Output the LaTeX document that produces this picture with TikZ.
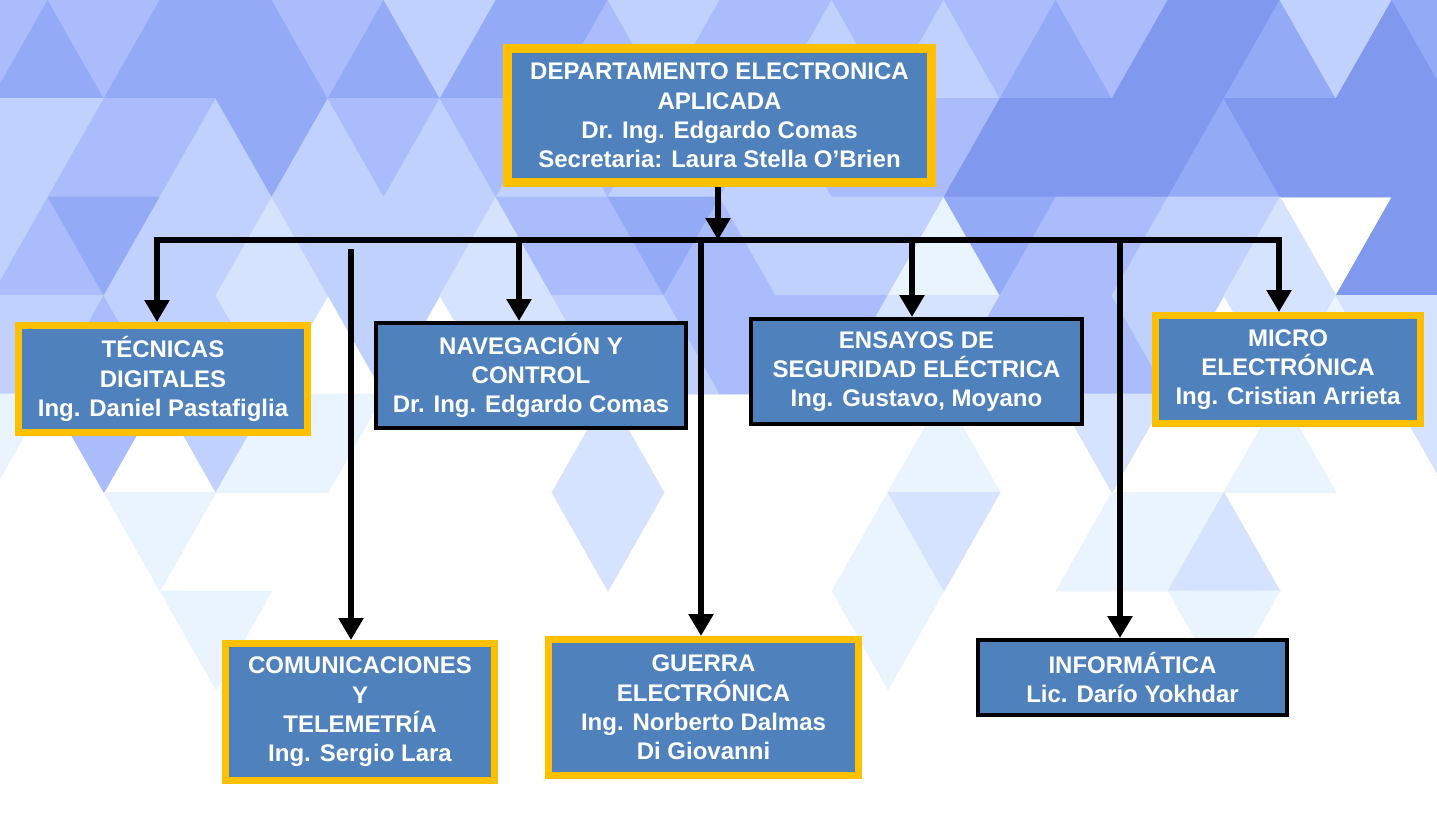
\documentclass[tikz,border=0pt]{standalone}
\usepackage{fontspec}
\setmainfont{Liberation Sans}
\usetikzlibrary{arrows.meta}
\definecolor{tA}{HTML}{8098EE}
\definecolor{tB}{HTML}{93ABF7}
\definecolor{tC}{HTML}{AABCFB}
\definecolor{tD}{HTML}{C1D1FD}
\definecolor{tE}{HTML}{D6E3FE}
\definecolor{tF}{HTML}{E9F4FE}
\definecolor{boxblue}{HTML}{4F81BD}
\definecolor{boxyellow}{HTML}{FFC000}
\newcommand\boxfont{\fontsize{24}{29.3}\selectfont\bfseries}
\newcommand\trirow[2]{%
  \foreach \tc [count=\ti from -1] in {#2}{%
    \if\tc W\else
      \pgfmathsetmacro\xc{48+56*\ti}%
      \pgfmathsetmacro\ya{98.5*#1}%
      \pgfmathsetmacro\yb{98.5*(#1+1)}%
      \pgfmathtruncatemacro\tpar{mod(\ti+#1+2,2)}%
      \ifnum\tpar=0
        \filldraw[fill=t\tc,draw=t\tc,line width=0.6pt] (\xc,\ya) -- (\xc-56,\yb) -- (\xc+56,\yb) -- cycle;
      \else
        \filldraw[fill=t\tc,draw=t\tc,line width=0.6pt] (\xc-56,\ya) -- (\xc+56,\ya) -- (\xc,\yb) -- cycle;
      \fi
    \fi}}
\tikzset{
  box/.style={fill=boxblue, text=white, font=\boxfont, align=center, inner sep=0pt},
  ybox/.style={box, draw=boxyellow, line width=7pt},
  kbox/.style={box, draw=black, line width=4pt},
  conn/.style={line width=6pt, -{Triangle[width=24pt,length=22pt]}}
}
\begin{document}
\begin{tikzpicture}[x=1pt,y=-1pt]
\useasboundingbox (0,0) rectangle (1437,839);
\fill[white] (0,0) rectangle (1437,839);
\begin{scope}
\clip (0,0) rectangle (1437,839);
\trirow{0}{C,B,C,B,B,B,C,B,D,B,B,C,D,C,C,D,C,D,C,B,C,A,A,B,D,A,B}
\trirow{1}{D,D,C,C,D,B,D,C,D,C,D,C,D,C,D,C,C,C,A,A,A,A,B,A,A,A,A}
\trirow{2}{D,C,B,D,D,E,D,D,D,E,C,C,B,C,D,D,D,F,B,C,C,D,D,E,W,A,A}
\trirow{3}{D,D,C,D,D,E,W,D,W,E,E,D,D,C,C,C,E,E,C,C,C,D,W,E,F,E,E}
\trirow{4}{F,W,C,W,D,F,F,W,W,W,W,E,W,W,W,W,W,F,W,W,E,W,W,F,W,W,E}
\trirow{5}{W,W,W,F,W,W,W,W,W,W,W,E,W,W,W,W,F,E,W,W,F,F,E,W,W,W,W}
\trirow{6}{W,W,W,W,F,W,W,W,W,W,W,W,W,W,W,W,F,W,W,W,W,W,F,W,W,W,W}
\end{scope}

% boxes
\node[ybox, line width=9pt, minimum width=424pt, minimum height=134pt] (dep) at (719.5,115.5)
  {DEPARTAMENTO ELECTRONICA\\APLICADA\\Dr. Ing. Edgardo Comas\\Secretaria: Laura Stella O’Brien};
\node[ybox, minimum width=289pt, minimum height=107pt] (tec) at (163,379)
  {TÉCNICAS\\DIGITALES\\Ing. Daniel Pastafiglia};
\node[kbox, minimum width=310pt, minimum height=105pt] (nav) at (531,375.5)
  {NAVEGACIÓN Y\\CONTROL\\Dr. Ing. Edgardo Comas};
\node[kbox, minimum width=331pt, minimum height=105pt] (ens) at (916.5,371.5)
  {ENSAYOS DE\\SEGURIDAD ELÉCTRICA\\Ing. Gustavo, Moyano};
\node[ybox, minimum width=265pt, minimum height=108pt] (mic) at (1288,369.5)
  {MICRO\\ELECTRÓNICA\\Ing. Cristian Arrieta};
\node[ybox, minimum width=269pt, minimum height=137pt] (com) at (360,712)
  {COMUNICACIONES\\Y\\TELEMETRÍA\\Ing. Sergio Lara};
\node[ybox, minimum width=310pt, minimum height=136pt] (gue) at (703.5,707.5)
  {GUERRA\\ELECTRÓNICA\\Ing. Norberto Dalmas\\Di Giovanni};
\node[kbox, minimum width=309pt, minimum height=75pt] (inf) at (1132.5,677.5)
  {INFORMÁTICA\\Lic. Darío Yokhdar};

% connectors
\coordinate (busL) at (157,240);
\coordinate (busR) at (1279,240);
\coordinate (jDep) at (718,240);
\coordinate (jNav) at (519,240);
\coordinate (sCom) at (351,249);
\coordinate (jGue) at (701,242);
\coordinate (jEns) at (912,240);
\coordinate (jInf) at (1120,240);

\draw[conn] (jDep |- dep.south) -- (jDep);
\draw[conn] (busR) -- (busL) -- (busL |- tec.north);
\draw[conn] (busL) -- (busR) -- (busR |- mic.north);
\draw[conn] (jNav) -- (jNav |- nav.north);
\draw[conn] (sCom) -- (sCom |- com.north);
\draw[conn] (jGue) -- (jGue |- gue.north);
\draw[conn] (jEns) -- (jEns |- ens.north);
\draw[conn] (jInf) -- (jInf |- inf.north);
\end{tikzpicture}
\end{document}
